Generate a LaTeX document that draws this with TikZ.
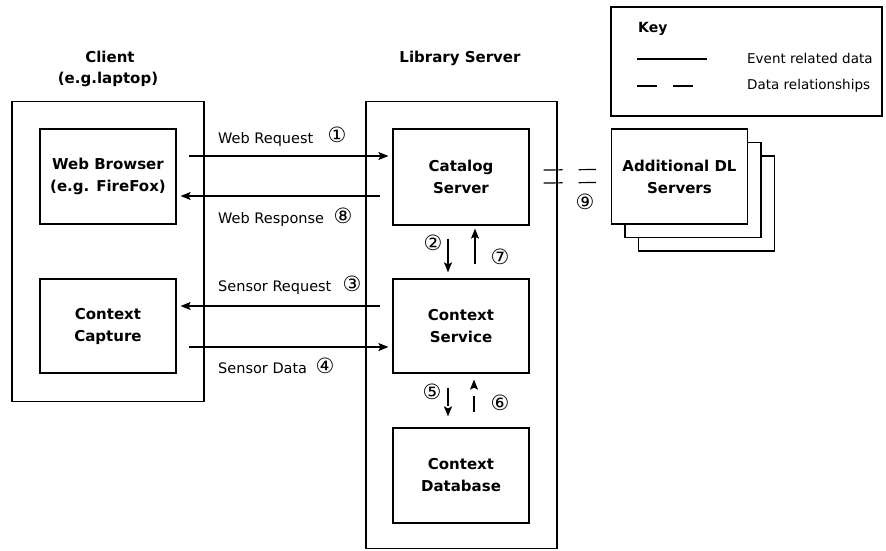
\documentclass[tikz,border=0pt]{standalone}
\usepackage{fontspec}
\setmainfont{DejaVu Sans}
\newfontfamily\circfont{DejaVu Sans}
\usetikzlibrary{arrows.meta,calc}

\tikzset{
  box/.style={draw, line width=1.2pt, minimum width=136pt, minimum height=95pt,
    align=center, inner sep=0pt, font=\fontsize{15}{22}\selectfont\bfseries},
  frame/.style={draw, line width=1.2pt, inner sep=0pt},
  arr/.style={line width=1.2pt, -{Stealth[length=10pt,width=8pt,inset=2pt]}},
  dasharr/.style={arr, dash pattern=on 18pt off 30pt},
  lbl/.style={anchor=base west, inner sep=0pt, font=\fontsize{14.5}{16}\selectfont},
  num/.style={inner sep=0pt, font=\circfont\fontsize{21}{21}\selectfont},
  title/.style={inner sep=0pt, align=center, font=\fontsize{15}{21}\selectfont\bfseries},
  keytxt/.style={anchor=west, inner sep=0pt, font=\fontsize{13.5}{15}\selectfont},
  rel/.style={line width=1.2pt, dash pattern=on 19pt off 16pt}
}

\begin{document}
\begin{tikzpicture}[x=1pt, y=-1pt]
\useasboundingbox (0,0) rectangle (886,550);

% containers
\node[frame, minimum width=192pt, minimum height=300pt] (client) at (108,251.5) {};
\node[frame, minimum width=191pt, minimum height=447pt] (lib) at (461.5,325) {};

% titles
\node[title, anchor=base] (clientT) at (110,62) {Client};
\node[title, anchor=base] (clientS) at (108,83) {(e.g.laptop)};
\node[title, anchor=base] (libT) at (460,62) {Library Server};

% client components
\node[box] (wb) at (108,176.5) {Web Browser\\(e.g. FireFox)};
\node[box, minimum height=94pt] (cc) at (108,326) {Context\\Capture};

% server components
\node[box, minimum height=96pt] (cat) at (461,177) {Catalog\\Server};
\node[box, minimum height=94pt] (cs) at (461,326) {Context\\Service};
\node[box] (db) at (461,475.5) {Context\\Database};

% stacked remote servers
\node[box, fill=white] (dl3) at (706.5,203.5) {};
\node[box, fill=white] (dl2) at (693,190) {};
\node[box, fill=white] (dl) at (679.5,176.5) {Additional DL\\Servers};

% key
\node[frame, minimum width=271pt, minimum height=109pt] (key) at (746.5,61.5) {};
\node[anchor=west, inner sep=0pt, font=\fontsize{14}{15}\selectfont\bfseries] (keyT) at (638,29) {Key};
\coordinate (ks1) at (637,59);
\coordinate (ks2) at (707,59);
\coordinate (kd1) at (637,86);
\coordinate (kd2) at (693,86);
\draw[line width=1.2pt] (ks1) -- (ks2);
\draw[line width=1.2pt, dash pattern=on 20pt off 16pt] (kd1) -- (kd2);
\node[keytxt] (k1) at (747,58) {Event related data};
\node[keytxt] (k2) at (747,86) {Data relationships};

% client <-> server messages
\draw[arr] ([shift={(12,-20.5)}]wb.east) -- ([shift={(-4,-21)}]cat.west);
\draw[arr] ([shift={(-12,19)}]cat.west) -- ([shift={(4,19.5)}]wb.east);
\draw[arr] ([shift={(-12,-20)}]cs.west) -- ([shift={(4,-20)}]cc.east);
\draw[arr] ([shift={(12,21)}]cc.east) -- ([shift={(-4,21)}]cs.west);

\node[lbl] (l1) at (218,143) {Web Request};
\node[num] (n1) at (337,135) {①};
\node[lbl] (l8) at (218,223) {Web Response};
\node[num] (n8) at (343,216) {⑧};
\node[lbl] (l3) at (218,291) {Sensor Request};
\node[num] (n3) at (352,284) {③};
\node[lbl] (l4) at (218,373) {Sensor Data};
\node[num] (n4) at (325,366) {④};

% catalog <-> context service
\draw[arr] ([shift={(-13,13)}]cat.south) -- ([shift={(-13,-6)}]cs.north);
\draw[arr] ([shift={(14,-14)}]cs.north) -- ([shift={(14,3)}]cat.south);
\node[num] (n2) at (433,243) {②};
\node[num] (n7) at (500,257) {⑦};

% context service <-> database
\draw[dasharr] ([shift={(-13,14)}]cs.south) -- ([shift={(-13,-11)}]db.north);
\draw[dasharr, dash pattern=on 16pt off 9pt on 20pt] ([shift={(13,-15)}]db.north) -- ([shift={(13,6)}]cs.south);
\node[num] (n5) at (432,392) {⑤};
\node[num] (n6) at (500,403) {⑥};

% catalog <-> additional servers
\draw[rel] ([shift={(14,-7)}]cat.east) -- ([shift={(-15,-7)}]dl.west);
\draw[rel] ([shift={(14,6)}]cat.east) -- ([shift={(-15,6)}]dl.west);
\node[num] (n9) at (585,202) {⑨};
\end{tikzpicture}
\end{document}
